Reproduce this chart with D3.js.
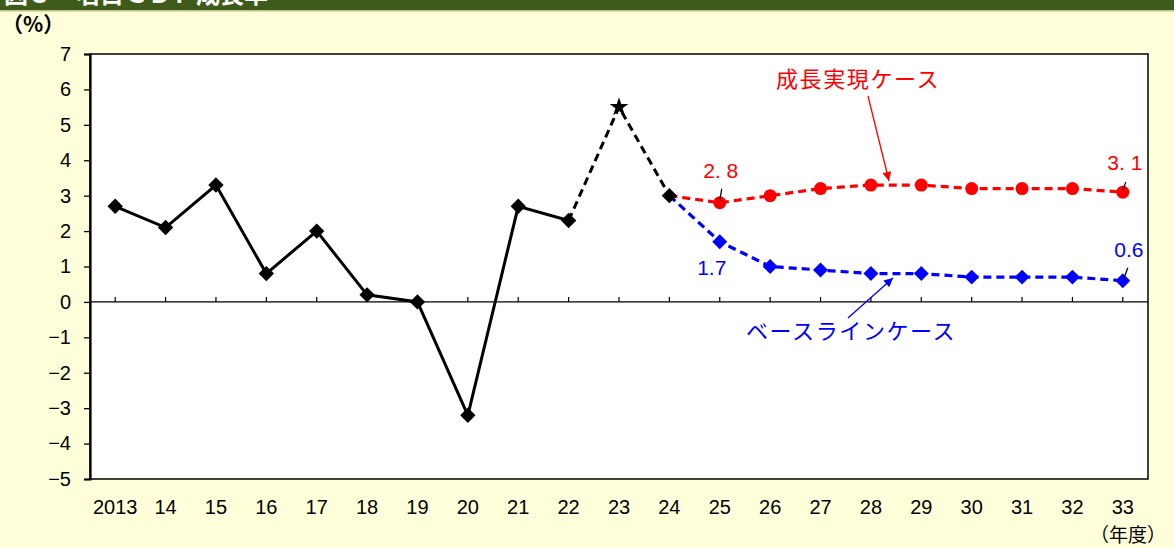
<!DOCTYPE html>
<html lang="ja">
<head>
<meta charset="utf-8">
<script src="https://cdn.jsdelivr.net/npm/d3@7"></script>
<style>
  html, body { margin: 0; padding: 0; background: #ffffd9; }
  svg { display: block; }
  text { font-family: "Liberation Sans", Arial, "Noto Sans CJK JP", sans-serif; }
  .jp { font-family: "Noto Sans CJK JP", sans-serif; }
</style>
</head>
<body>
<svg id="chart" width="1174" height="548"></svg>
<script>
// Fiscal years shown on the x axis
const years = ["2013","14","15","16","17","18","19","20","21","22","23","24","25","26","27","28","29","30","31","32","33"];
// Actual growth rate (solid), FY2013–FY2022
const actualYears = ["2013","14","15","16","17","18","19","20","21","22"];
const actualValues = [2.7, 2.1, 3.3, 0.8, 2.0, 0.2, 0.0, -3.2, 2.7, 2.3];
// Estimate / outlook (dashed), FY2022–FY2024
const outlookYears = ["22","23","24"];
const outlookValues = [2.3, 5.5, 3.0];
// Projection: growth-realisation case
const projYears = ["24","25","26","27","28","29","30","31","32","33"];
const growthCase = [3.0, 2.8, 3.0, 3.2, 3.3, 3.3, 3.2, 3.2, 3.2, 3.1];
// Projection: baseline case
const baselineCase = [3.0, 1.7, 1.0, 0.9, 0.8, 0.8, 0.7, 0.7, 0.7, 0.6];
// Y axis ticks
const yTicks = [-5, -4, -3, -2, -1, 0, 1, 2, 3, 4, 5, 6, 7];

const svg = d3.select("#chart");
const W = 1174, H = 548;
const m = { left: 90, right: 1148, top: 54, bottom: 479 };

// Title bar (runs off the top edge)
svg.append("rect").attr("x", 0).attr("y", 0).attr("width", W).attr("height", 10).attr("fill", "#3e5b1c");
svg.append("rect").attr("x", 0).attr("y", 10).attr("width", W).attr("height", 1.5).attr("fill", "#b8c48a");
svg.append("text").attr("class", "jp").attr("x", 4).attr("y", 3)
  .attr("font-size", 24).attr("fill", "#fff").attr("font-weight", "bold")
  .text("図３　名目ＧＤＰ成長率");

// Plot area
svg.append("rect").attr("x", m.left).attr("y", m.top)
  .attr("width", m.right - m.left).attr("height", m.bottom - m.top)
  .attr("fill", "#fff").attr("stroke", "#000").attr("stroke-width", 1.5);

const x = d3.scaleBand().domain(years).range([m.left, m.right]);
const cx = d => x(d) + x.bandwidth() / 2;
const y = d3.scaleLinear().domain([-5, 7]).range([m.bottom, m.top]);

// Y axis
const yAxis = svg.append("g").attr("transform", `translate(${m.left},0)`)
  .call(d3.axisLeft(y).tickValues(yTicks).tickSize(6).tickPadding(13)
    .tickFormat(d => d < 0 ? "−" + Math.abs(d) : d));
yAxis.select(".domain").attr("stroke-width", 2.2);
yAxis.selectAll(".tick line").attr("stroke-width", 1.3);
yAxis.selectAll("text").attr("font-size", 20).attr("fill", "#000")
  .attr("font-family", "Liberation Sans, Arial, sans-serif");

// Zero line with category ticks
svg.append("line").attr("x1", m.left).attr("x2", m.right)
  .attr("y1", y(0)).attr("y2", y(0)).attr("stroke", "#000").attr("stroke-width", 1.2);
svg.append("g").selectAll("line").data(years).join("line")
  .attr("x1", d => cx(d)).attr("x2", d => cx(d))
  .attr("y1", y(0)).attr("y2", y(0) - 5).attr("stroke", "#000").attr("stroke-width", 1.2);

// X category labels
svg.append("g").selectAll("text").data(years).join("text")
  .attr("x", d => cx(d)).attr("y", 514).attr("text-anchor", "middle")
  .attr("font-size", 20).attr("fill", "#000").text(d => d);

// Unit labels
svg.append("text").attr("class", "jp").attr("x", 2).attr("y", 32)
  .attr("font-size", 21).attr("font-weight", "bold").attr("fill", "#000").text("（%）");
svg.append("text").attr("class", "jp").attr("x", 1166).attr("y", 542).attr("text-anchor", "end")
  .attr("font-size", 19).attr("fill", "#000").text("（年度）");

const line = d3.line().x(d => cx(d[0])).y(d => y(d[1]));
const zip = (a, b) => a.map((k, i) => [k, b[i]]);

// Lines
svg.append("path").datum(zip(actualYears, actualValues)).attr("d", line)
  .attr("fill", "none").attr("stroke", "#000").attr("stroke-width", 3);
svg.append("path").datum(zip(outlookYears, outlookValues)).attr("d", line)
  .attr("fill", "none").attr("stroke", "#000").attr("stroke-width", 3).attr("stroke-dasharray", "8,5");
svg.append("path").datum(zip(projYears, baselineCase)).attr("d", line)
  .attr("fill", "none").attr("stroke", "#0000ff").attr("stroke-width", 3.2).attr("stroke-dasharray", "8,5");
svg.append("path").datum(zip(projYears, growthCase)).attr("d", line)
  .attr("fill", "none").attr("stroke", "#ff0000").attr("stroke-width", 3.2).attr("stroke-dasharray", "8,5");

// Markers
function diamonds(data, color, size) {
  svg.append("g").selectAll("path").data(data).join("path")
    .attr("transform", d => `translate(${cx(d[0])},${y(d[1])}) rotate(45)`)
    .attr("d", d3.symbol().type(d3.symbolSquare).size(size)())
    .attr("fill", color);
}
diamonds(zip(actualYears, actualValues), "#000", 118);
diamonds(zip(projYears.slice(1), baselineCase.slice(1)), "#0000ff", 112);
svg.append("g").selectAll("circle").data(zip(projYears.slice(1), growthCase.slice(1))).join("circle")
  .attr("cx", d => cx(d[0])).attr("cy", d => y(d[1])).attr("r", 6.5).attr("fill", "#ff0000");
// FY2023 star, FY2024 diamond
svg.append("path").attr("transform", `translate(${cx("23")},${y(outlookValues[1])})`)
  .attr("d", d3.symbol().type(d3.symbolStar).size(110)()).attr("fill", "#000");
diamonds([["24", outlookValues[2]]], "#000", 118);

// Value labels with leader lines
function valueLabel(yr, v, text, color, dx, dy, font, lead) {
  const px = cx(yr), py = y(v);
  svg.append("text").attr("x", px + dx).attr("y", py + dy).attr("text-anchor", "middle")
    .attr("font-size", 21).attr("fill", color).attr("font-family", font).text(text);
  if (lead) {
    svg.append("line").attr("x1", px + lead[0]).attr("y1", py + lead[1])
      .attr("x2", px + lead[2]).attr("y2", py + lead[3]).attr("stroke", "#000").attr("stroke-width", 1.3);
  }
}
valueLabel("25", growthCase[1], "2. 8", "#ff0000", 1, -25, "Noto Sans CJK JP, sans-serif", [2, -14, 0, -2]);
valueLabel("33", growthCase[9], "3. 1", "#ff0000", 2, -22, "Noto Sans CJK JP, sans-serif", [3, -10, 0, -2]);
valueLabel("25", baselineCase[1], "1.7", "#0000ff", -8, 33, "Liberation Sans, Arial, sans-serif", null);
valueLabel("33", baselineCase[9], "0.6", "#0000ff", 6, -24, "Liberation Sans, Arial, sans-serif", [5, -13, 1, -2]);

// Case annotations with arrows
const defs = svg.append("defs");
function arrowHead(id, color) {
  defs.append("marker").attr("id", id).attr("viewBox", "0 0 10 10").attr("refX", 10).attr("refY", 5)
    .attr("markerWidth", 11).attr("markerHeight", 9).attr("markerUnits", "userSpaceOnUse")
    .attr("orient", "auto").append("path").attr("d", "M0,0 L10,5 L0,10 Z").attr("fill", color);
}
arrowHead("arrRed", "#ff0000");
arrowHead("arrBlue", "#0000ff");

svg.append("text").attr("class", "jp").attr("x", 776).attr("y", 87)
  .attr("font-size", 22).attr("letter-spacing", 1.6).attr("fill", "#ff0000").text("成長実現ケース");
svg.append("line").attr("x1", 868).attr("y1", 96).attr("x2", 889).attr("y2", 181)
  .attr("stroke", "#ff0000").attr("stroke-width", 1.3).attr("marker-end", "url(#arrRed)");

svg.append("text").attr("class", "jp").attr("x", 746).attr("y", 339)
  .attr("font-size", 22).attr("letter-spacing", 1.6).attr("fill", "#0000ff").text("ベースラインケース");
svg.append("line").attr("x1", 848).attr("y1", 318).attr("x2", 893).attr("y2", 278)
  .attr("stroke", "#0000ff").attr("stroke-width", 1.3).attr("marker-end", "url(#arrBlue)");
</script>
</body>
</html>
